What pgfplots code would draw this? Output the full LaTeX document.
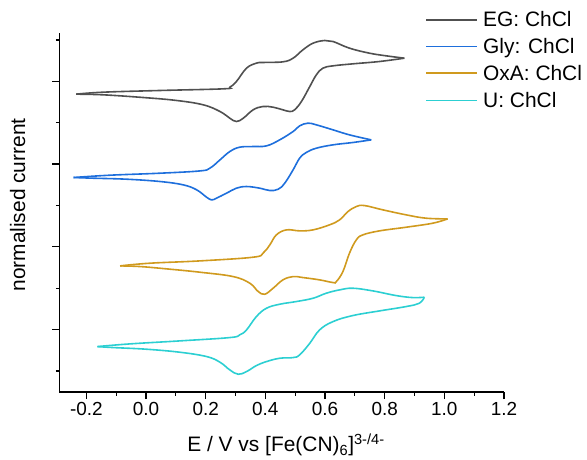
\documentclass[border=0pt]{standalone}
\usepackage{fontspec}
\setmainfont{Liberation Sans}
\usepackage{pgfplots}
\pgfplotsset{compat=1.18}
\definecolor{cEG}{HTML}{505050}
\definecolor{cGly}{HTML}{1E6FDC}
\definecolor{cOxA}{HTML}{D09A1E}
\definecolor{cU}{HTML}{2CCFD2}
\pgfplotsset{cv/.style={line width=1.6bp, smooth, tension=0.65, mark=none}}
\begin{document}
\begin{tikzpicture}
\path[use as bounding box] (-59.5bp,-68bp) rectangle (527.5bp,392bp);
\begin{axis}[
  at={(0,0)}, anchor=south west,
  width=444.5bp, height=359bp, scale only axis,
  xmin=-0.29, xmax=1.2, ymin=-0.51, ymax=8.17,
  axis lines*=left,
  axis line style={line width=1.6bp, -},
  tick align=outside,
  tick style={black, line width=1.3bp},
  major tick length=7bp, minor tick length=3.5bp,
  xtick={-0.2,0,0.2,0.4,0.6,0.8,1.0,1.2},
  xticklabels={-0.2,0.0,0.2,0.4,0.6,0.8,1.0,1.2},
  minor xtick={-0.1,0.1,0.3,0.5,0.7,0.9,1.1},
  ytick={1,3,5,7}, yticklabels={},
  minor ytick={0,2,4,6,8},
  ticklabel style={font=\fontsize{19}{22}\selectfont},
  xlabel={E / V vs [Fe(CN)\textsubscript{6}]\textsuperscript{3-/4-}},
  ylabel={normalised current},
  label style={font=\fontsize{21}{25}\selectfont},
  xlabel style={at={(axis description cs:0.5096,-0.1671)}, anchor=base},
  ylabel style={at={(axis description cs:-0.0776,0.5209)}, anchor=base},
]
% EG: ChCl
\addplot[cv, cEG] coordinates {(-0.234,6.691) (-0.143,6.739) (0.047,6.780) (0.259,6.820) (0.281,6.860) (0.303,6.997) (0.337,7.320) (0.370,7.441) (0.392,7.457) (0.459,7.473) (0.493,7.561) (0.526,7.763) (0.560,7.924) (0.599,7.989) (0.627,7.964) (0.682,7.803) (0.749,7.682) (0.805,7.618) (0.866,7.561)};
\addplot[cv, cEG] coordinates {(0.866,7.561) (0.783,7.481) (0.693,7.424) (0.627,7.376) (0.593,7.320) (0.571,7.158) (0.549,6.876) (0.521,6.513) (0.498,6.312) (0.482,6.272) (0.459,6.312) (0.426,6.376) (0.392,6.393) (0.359,6.312) (0.326,6.110) (0.303,6.030) (0.281,6.110) (0.248,6.272) (0.192,6.433) (0.103,6.538) (-0.009,6.610) (-0.143,6.675) (-0.234,6.691)};
% Gly: ChCl
\addplot[cv, cGly] coordinates {(-0.243,4.676) (-0.120,4.732) (0.047,4.780) (0.180,4.835) (0.214,4.901) (0.248,5.103) (0.281,5.304) (0.314,5.409) (0.359,5.425) (0.404,5.441) (0.448,5.586) (0.493,5.788) (0.515,5.925) (0.543,5.990) (0.571,5.949) (0.627,5.828) (0.682,5.707) (0.755,5.586)};
\addplot[cv, cGly] coordinates {(0.755,5.586) (0.693,5.522) (0.627,5.466) (0.571,5.385) (0.537,5.280) (0.515,5.143) (0.493,4.861) (0.465,4.539) (0.443,4.393) (0.415,4.361) (0.381,4.418) (0.337,4.458) (0.303,4.418) (0.270,4.297) (0.236,4.176) (0.220,4.135) (0.203,4.200) (0.170,4.377) (0.125,4.498) (0.047,4.579) (-0.065,4.635) (-0.176,4.659) (-0.243,4.676)};
% OxA: ChCl
\addplot[cv, cOxA] coordinates {(-0.087,2.539) (0.013,2.604) (0.181,2.660) (0.359,2.749) (0.392,2.846) (0.415,3.047) (0.437,3.289) (0.471,3.410) (0.515,3.386) (0.560,3.410) (0.615,3.531) (0.649,3.652) (0.677,3.853) (0.705,3.974) (0.732,3.998) (0.794,3.894) (0.872,3.773) (0.939,3.692) (1.011,3.676)};
\addplot[cv, cOxA] coordinates {(1.011,3.676) (0.961,3.571) (0.872,3.474) (0.783,3.386) (0.727,3.289) (0.705,3.168) (0.682,2.846) (0.660,2.402) (0.638,2.160) (0.627,2.136) (0.582,2.201) (0.526,2.257) (0.493,2.281) (0.459,2.201) (0.426,1.999) (0.398,1.854) (0.376,1.919) (0.348,2.120) (0.292,2.281) (0.181,2.386) (0.069,2.467) (-0.020,2.523) (-0.087,2.539)};
% U: ChCl
\addplot[cv, cU] coordinates {(-0.163,0.588) (-0.054,0.653) (0.114,0.726) (0.281,0.806) (0.314,0.871) (0.337,0.992) (0.370,1.314) (0.404,1.516) (0.448,1.612) (0.504,1.677) (0.560,1.757) (0.604,1.878) (0.649,1.959) (0.693,1.999) (0.760,1.935) (0.838,1.822) (0.894,1.773) (0.933,1.782)};
\addplot[cv, cU] coordinates {(0.933,1.782) (0.916,1.636) (0.872,1.556) (0.783,1.451) (0.693,1.338) (0.627,1.193) (0.582,0.992) (0.549,0.669) (0.515,0.387) (0.493,0.322) (0.448,0.306) (0.404,0.226) (0.370,0.129) (0.337,-0.016) (0.309,-0.081) (0.281,0.024) (0.248,0.210) (0.203,0.347) (0.114,0.451) (0.002,0.524) (-0.109,0.564) (-0.163,0.588)};
\end{axis}
% legend
\begin{scope}[every node/.style={anchor=base west, inner sep=0pt, font=\fontsize{21}{25}\selectfont}]
\draw[cEG, line width=1.6bp]  (366.5bp,372bp)   -- (417.5bp,372bp);
\node at (423.5bp,365bp) {EG: ChCl};
\draw[cGly, line width=1.6bp] (366.5bp,345.3bp) -- (417.5bp,345.3bp);
\node at (423.5bp,338.3bp) {Gly: ChCl};
\draw[cOxA, line width=1.6bp] (366.5bp,318.7bp) -- (417.5bp,318.7bp);
\node at (423.5bp,311.7bp) {OxA: ChCl};
\draw[cU, line width=1.6bp]   (366.5bp,291.5bp) -- (417.5bp,291.5bp);
\node at (423.5bp,284.5bp) {U: ChCl};
\end{scope}
\end{tikzpicture}
\end{document}
